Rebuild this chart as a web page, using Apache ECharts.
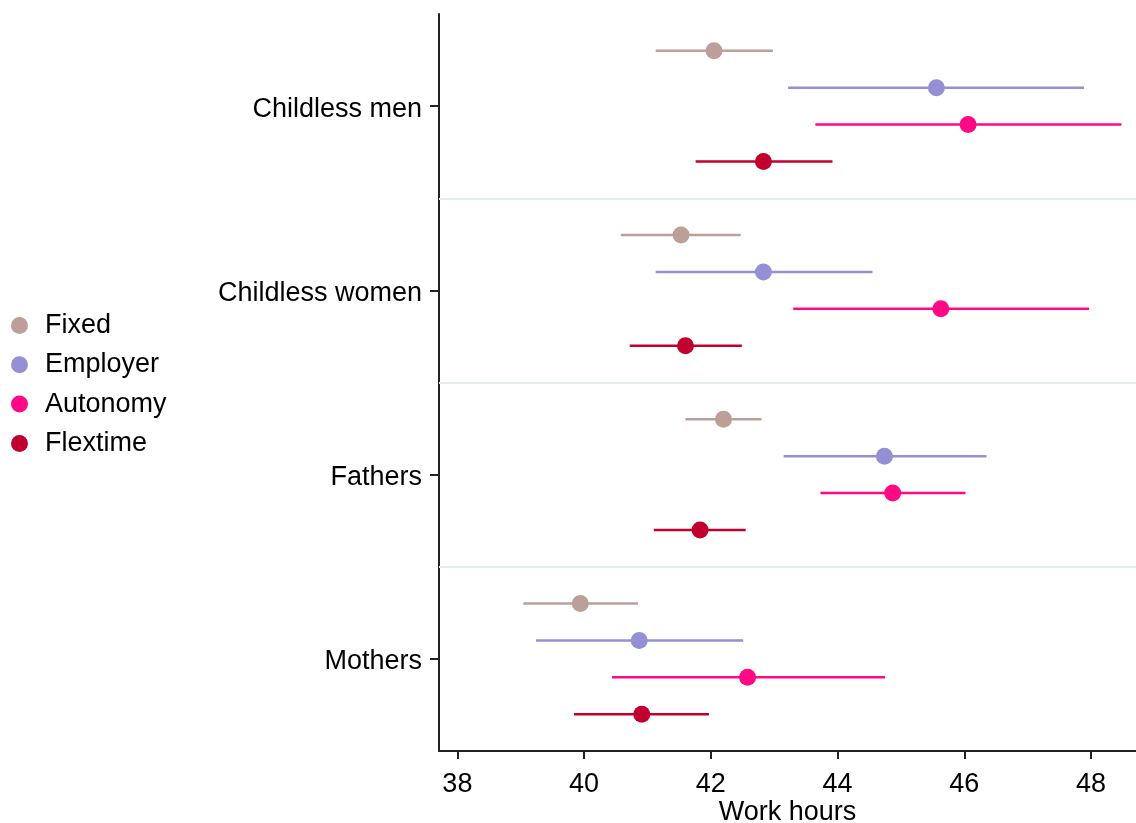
<!DOCTYPE html>
<html>
<head>
<meta charset="utf-8">
<script src="https://cdn.jsdelivr.net/npm/echarts@6/dist/echarts.min.js"></script>
<style>
  html, body { margin: 0; padding: 0; background: #fff; }
  #workHours { width: 1136px; height: 823px; }
</style>
</head>
<body>
<div id="workHours"></div>
<script>
// groups top to bottom, methods within each group
const groups = ['Childless men', 'Childless women', 'Fathers', 'Mothers'];
const methods = ['Fixed', 'Employer', 'Autonomy', 'Flextime'];
const xTicks = [38, 40, 42, 44, 46, 48];

// point estimates and 95% CI per method, in group order
const fixedEst = [42.05, 41.53, 42.20, 39.94];
const fixedLo  = [41.13, 40.58, 41.60, 39.04];
const fixedHi  = [42.98, 42.47, 42.80, 40.85];

const employerEst = [45.56, 42.83, 44.74, 40.87];
const employerLo  = [43.22, 41.13, 43.15, 39.24];
const employerHi  = [47.89, 44.55, 46.35, 42.51];

const autonomyEst = [46.06, 45.63, 44.87, 42.58];
const autonomyLo  = [43.65, 43.30, 43.73, 40.44];
const autonomyHi  = [48.48, 47.97, 46.02, 44.75];

const flextimeEst = [42.83, 41.60, 41.83, 40.91];
const flextimeLo  = [41.76, 40.72, 41.10, 39.84];
const flextimeHi  = [43.92, 42.49, 42.55, 41.97];

const colors = ['#bd9f99', '#958fd5', '#ff0a84', '#c2002f'];
const offsets = [-0.3, -0.1, 0.1, 0.3];

const est = [fixedEst, employerEst, autonomyEst, flextimeEst];
const lo = [fixedLo, employerLo, autonomyLo, flextimeLo];
const hi = [fixedHi, employerHi, autonomyHi, flextimeHi];

const font = "'Liberation Sans', Arial, sans-serif";
const chart = echarts.init(document.getElementById('workHours'));

let series = [];
methods.forEach(function (m, k) {
  series.push({
    name: m,
    type: 'custom',
    silent: true,
    data: groups.map(function (g, i) { return [lo[k][i], hi[k][i], i + offsets[k]]; }),
    encode: { x: [0, 1], y: 2 },
    renderItem: function (params, api) {
      const a = api.coord([api.value(0), api.value(2)]);
      const b = api.coord([api.value(1), api.value(2)]);
      return {
        type: 'line',
        shape: { x1: a[0], y1: a[1], x2: b[0], y2: b[1] },
        style: { stroke: colors[k], lineWidth: 2.5 }
      };
    },
    z: 2
  });
  series.push({
    name: m,
    type: 'scatter',
    symbol: 'circle',
    symbolSize: 17,
    itemStyle: { color: colors[k], opacity: 1 },
    data: groups.map(function (g, i) { return [est[k][i], i + offsets[k]]; }),
    z: 3
  });
});

// light separators between groups
series[1].markLine = {
  silent: true,
  symbol: 'none',
  label: { show: false },
  lineStyle: { color: '#e3eded', width: 2, type: 'solid' },
  data: [0, 1, 2].map(function (i) { return { yAxis: i + 0.5 }; })
};

const option = {
  animation: false,
  color: colors,
  textStyle: { fontFamily: font },
  grid: { left: 439, right: 0, top: 14, bottom: 72, outerBoundsMode: 'none', containLabel: false },
  legend: {
    orient: 'vertical',
    left: 11,
    top: 312,
    padding: 0,
    itemWidth: 17,
    itemHeight: 17,
    itemGap: 12.3,
    data: methods.map(function (m) { return { name: m, icon: 'circle' }; }),
    textStyle: { fontSize: 27, color: '#000', fontFamily: font, lineHeight: 27, padding: [0, 0, 0, 12] }
  },
  xAxis: {
    type: 'value',
    min: 37.71,
    max: 48.71,
    name: 'Work hours',
    nameLocation: 'middle',
    nameGap: 48,
    nameMoveOverlap: false,
    nameTextStyle: { fontSize: 27, color: '#000', fontFamily: font },
    axisLine: { onZero: false, lineStyle: { color: '#222', width: 2 } },
    axisTick: { show: true, length: 8, customValues: xTicks, lineStyle: { color: '#222', width: 2 } },
    axisLabel: { customValues: xTicks, fontSize: 27, color: '#000', margin: 20, fontFamily: font },
    splitLine: { show: false }
  },
  yAxis: {
    type: 'value',
    min: -0.5,
    max: 3.5,
    inverse: true,
    axisLine: { show: true, onZero: false, lineStyle: { color: '#222', width: 2 } },
    axisTick: { show: true, length: 9, customValues: [0, 1, 2, 3], lineStyle: { color: '#222', width: 2 } },
    axisLabel: {
      customValues: [0, 1, 2, 3],
      formatter: function (v) { return '{g|' + groups[Math.round(v)] + '}'; },
      rich: {
        g: { fontSize: 27, color: '#000', fontFamily: font, padding: [6, 0, 0, 0] }
      },
      margin: 17
    },
    splitLine: { show: false }
  },
  series: series
};

chart.setOption(option);
</script>
</body>
</html>
